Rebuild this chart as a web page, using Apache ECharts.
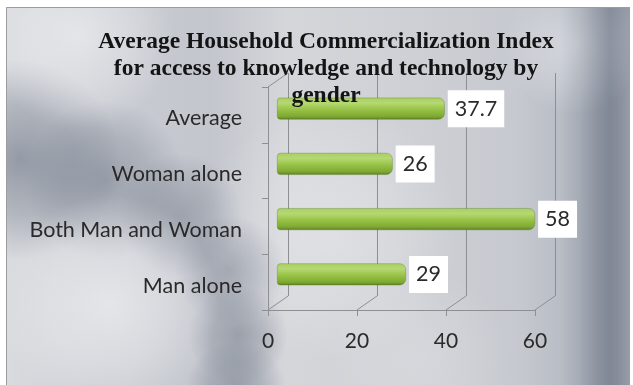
<!DOCTYPE html>
<html>
<head>
<meta charset="utf-8">
<script src="https://cdn.jsdelivr.net/npm/echarts@6/dist/echarts.min.js"></script>
<style>
  html, body { margin: 0; padding: 0; background: #ffffff; }
  #chart { width: 633px; height: 385px; }
</style>
</head>
<body>
<div id="chart"></div>
<script>
// Household commercialization index by gender group
const categories = ['Average', 'Woman alone', 'Both Man and Woman', 'Man alone'];
const indexValues = [37.7, 26, 58, 29];
const xTicks = [0, 20, 40, 60];
const titleLines = [
  'Average Household Commercialization Index',
  'for access to knowledge and technology by',
  'gender'
];

// 3-D box geometry: front face, rear wall offset, bars sit half way in
const FRONT = { left: 268, top: 87, width: 267, height: 223 };
const DEPTH = { dx: 20, dy: -14 };
const X_MIN = 0, X_MAX = 60, X_STEP = 20;
const LINE_GREY = '#8d8f93';
const TEXT_DARK = '#2a2a2a';
const UI_FONT = 'Lato, "Open Sans", sans-serif';

const chart = echarts.init(document.getElementById('chart'), null, { renderer: 'canvas' });

function blob(cx, cy, r, rgb, a) {
  return {
    type: 'circle', z: -50, silent: true,
    shape: { cx: cx, cy: cy, r: r },
    style: {
      fill: {
        type: 'radial', x: 0.5, y: 0.5, r: 0.5,
        colorStops: [
          { offset: 0, color: 'rgba(' + rgb + ',' + a + ')' },
          { offset: 0.55, color: 'rgba(' + rgb + ',' + (a * 0.55) + ')' },
          { offset: 1, color: 'rgba(' + rgb + ',0)' }
        ]
      }
    }
  };
}

const DARK = '108,116,132';
const LIGHT = '246,247,249';

const background = [
  // brushed-metal panel
  {
    type: 'rect', z: -60, silent: true,
    shape: { x: 6, y: 7, width: 624, height: 380 },
    style: {
      fill: {
        type: 'linear', x: 0, y: 0, x2: 1, y2: 0,
        colorStops: [
          { offset: 0.00, color: '#d9dbdf' },
          { offset: 0.15, color: '#c9ccd2' },
          { offset: 0.33, color: '#c3c6cd' },
          { offset: 0.45, color: '#d4d6da' },
          { offset: 0.62, color: '#cfd1d6' },
          { offset: 0.82, color: '#c6c9cf' },
          { offset: 0.92, color: '#b3b8c1' },
          { offset: 0.97, color: '#939aa6' },
          { offset: 1.00, color: '#a9aeb7' }
        ]
      }
    }
  },
  // dark swirl running from the left edge down to the bottom
  blob(20, 160, 100, DARK, 0.62),
  blob(105, 180, 80, DARK, 0.5),
  blob(180, 215, 62, DARK, 0.45),
  blob(230, 270, 55, DARK, 0.45),
  blob(238, 335, 50, DARK, 0.5),
  blob(236, 390, 50, DARK, 0.55),
  // highlights
  blob(110, 305, 110, LIGHT, 0.6),
  blob(80, 35, 95, LIGHT, 0.55),
  blob(330, 230, 130, LIGHT, 0.35),
  blob(575, 45, 70, LIGHT, 0.45),
  blob(420, 360, 90, LIGHT, 0.2),
  // shadow along the right edge
  {
    type: 'rect', z: -45, silent: true,
    shape: { x: 560, y: 7, width: 70, height: 380 },
    style: {
      fill: {
        type: 'linear', x: 0, y: 0, x2: 1, y2: 0,
        colorStops: [
          { offset: 0, color: 'rgba(' + DARK + ',0)' },
          { offset: 0.7, color: 'rgba(' + DARK + ',0.5)' },
          { offset: 1, color: 'rgba(' + DARK + ',0.3)' }
        ]
      }
    }
  },
  // white page margin and panel border
  { type: 'rect', z: -40, silent: true, shape: { x: 0, y: 0, width: 633, height: 7 }, style: { fill: '#ffffff' } },
  { type: 'rect', z: -40, silent: true, shape: { x: 0, y: 0, width: 6, height: 385 }, style: { fill: '#ffffff' } },
  { type: 'rect', z: -40, silent: true, shape: { x: 630, y: 0, width: 3, height: 385 }, style: { fill: '#ffffff' } },
  {
    type: 'rect', z: -39, silent: true,
    shape: { x: 6.5, y: 7.5, width: 623, height: 390 },
    style: { fill: 'none', stroke: '#9c9c9c', lineWidth: 1 }
  }
];

const option = {
  backgroundColor: '#ffffff',
  animation: false,
  graphic: background,
  title: {
    text: titleLines.join('\n'),
    left: 321,
    top: 23,
    textAlign: 'center',
    z: 20,
    textStyle: {
      fontFamily: '"Liberation Serif", "DejaVu Serif", serif',
      fontWeight: 'bold',
      fontSize: 23.5,
      lineHeight: 27,
      color: '#141414'
    }
  },
  grid: [
    // front face: axes and labels
    { left: FRONT.left, top: FRONT.top, width: FRONT.width, height: FRONT.height },
    // rear wall: gridlines
    { left: FRONT.left + DEPTH.dx, top: FRONT.top + DEPTH.dy, width: FRONT.width, height: FRONT.height },
    // mid depth: bars
    { left: FRONT.left + DEPTH.dx / 2 - 1, top: 81, width: FRONT.width, height: 221 }
  ],
  xAxis: [
    {
      gridIndex: 0, type: 'value', min: X_MIN, max: X_MAX, interval: X_STEP,
      axisLine: { show: true, lineStyle: { color: LINE_GREY, width: 1 } },
      axisTick: { show: true, length: 6, lineStyle: { color: LINE_GREY } },
      splitLine: { show: false },
      axisLabel: {
        margin: 21, fontFamily: UI_FONT, fontSize: 21, color: TEXT_DARK,
        formatter: function (v) { return xTicks.indexOf(v) >= 0 ? String(v) : ''; }
      }
    },
    {
      gridIndex: 1, type: 'value', min: X_MIN, max: X_MAX, interval: X_STEP,
      axisLine: { show: false }, axisTick: { show: false }, axisLabel: { show: false },
      splitLine: { show: true, lineStyle: { color: LINE_GREY, width: 1 } }
    },
    {
      gridIndex: 2, type: 'value', min: X_MIN, max: X_MAX, show: false
    }
  ],
  yAxis: [
    {
      gridIndex: 0, type: 'category', data: categories, inverse: true,
      axisLine: { show: true, lineStyle: { color: LINE_GREY, width: 1 } },
      axisTick: { show: true, length: 6, lineStyle: { color: LINE_GREY } },
      axisLabel: {
        margin: 26,
        formatter: function (name) { return '{c|' + name + '}'; },
        rich: {
          c: {
            fontFamily: UI_FONT, fontSize: 21.5, color: TEXT_DARK,
            padding: [7, 0, 0, 0]
          }
        }
      }
    },
    {
      gridIndex: 1, type: 'category', data: categories, inverse: true, show: false
    },
    {
      gridIndex: 2, type: 'category', data: categories, inverse: true, show: false
    }
  ],
  series: [
    {
      // floor edges and the top edge of the side wall
      type: 'custom',
      xAxisIndex: 0, yAxisIndex: 0,
      silent: true, z: 1,
      data: xTicks.map(function (v) { return [v, 0]; }),
      renderItem: function (params, api) {
        const cs = params.coordSys;
        const x = api.coord([api.value(0), 0])[0];
        const bottom = cs.y + cs.height;
        const children = [{
          type: 'line',
          shape: { x1: x, y1: bottom, x2: x + DEPTH.dx, y2: bottom + DEPTH.dy },
          style: { stroke: LINE_GREY, lineWidth: 1 }
        }];
        if (api.value(0) === X_MIN) {
          children.push({
            type: 'line',
            shape: { x1: x, y1: cs.y, x2: x + DEPTH.dx, y2: cs.y + DEPTH.dy },
            style: { stroke: LINE_GREY, lineWidth: 1 }
          });
        }
        return { type: 'group', children: children };
      }
    },
    {
      type: 'bar',
      xAxisIndex: 2, yAxisIndex: 2,
      data: indexValues,
      barWidth: 22,
      z: 5,
      itemStyle: {
        borderRadius: [3, 6, 6, 3],
        borderColor: 'rgba(80,110,25,0.55)',
        borderWidth: 0.6,
        color: {
          type: 'linear', x: 0, y: 0, x2: 0, y2: 1,
          colorStops: [
            { offset: 0.00, color: '#a9cf62' },
            { offset: 0.25, color: '#b5d873' },
            { offset: 0.55, color: '#97c245' },
            { offset: 0.85, color: '#7fa933' },
            { offset: 1.00, color: '#5e7f22' }
          ]
        }
      },
      label: {
        show: true,
        position: 'right',
        distance: 3,
        backgroundColor: '#ffffff',
        padding: [8, 7, 7, 7],
        fontFamily: UI_FONT,
        fontSize: 21.5,
        color: TEXT_DARK
      }
    }
  ]
};

chart.setOption(option);
</script>
</body>
</html>
